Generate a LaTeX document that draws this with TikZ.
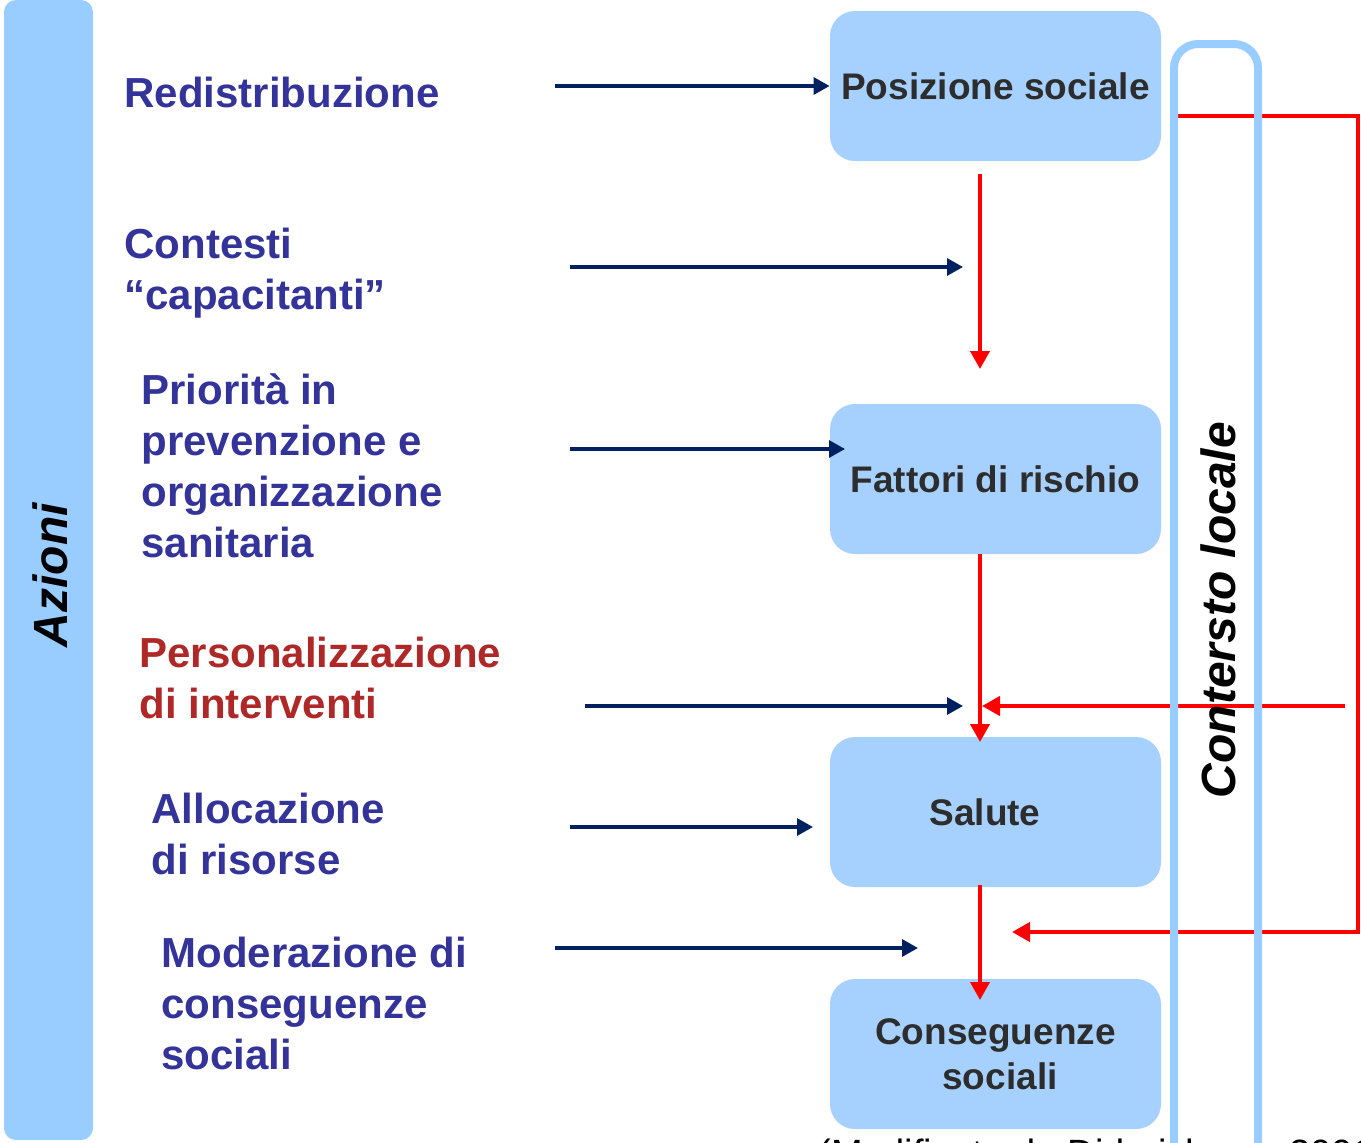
\documentclass[tikz,border=0pt]{standalone}
\usepackage{fontspec}
\setmainfont{Liberation Sans}
\usetikzlibrary{arrows.meta}
\definecolor{textblue}{RGB}{51,51,153}
\definecolor{textred}{RGB}{175,40,40}
\definecolor{navy}{RGB}{0,32,96}
\definecolor{boxfill}{RGB}{166,209,255}
\definecolor{barfill}{RGB}{153,204,255}
\definecolor{boxtext}{RGB}{45,45,45}
\tikzset{
  azlabel/.style={anchor=west,inner sep=0pt,align=left,text=textblue,font=\fontsize{21}{25.5}\selectfont\bfseries},
  stagebox/.style={fill=boxfill,rounded corners=12.5pt,minimum width=165.5pt,minimum height=75pt,inner sep=0pt,align=center,text=boxtext,font=\fontsize{18.5}{22.5}\selectfont\bfseries},
  navyarr/.style={draw=navy,line width=1.6pt,-{Triangle[length=8pt,width=8.5pt]}},
  redarr/.style={draw=red,line width=2pt,-{Triangle[length=9pt,width=9.5pt]}},
}
\begin{document}
\begin{tikzpicture}[x=0.5pt,y=-0.5pt]
\useasboundingbox (0,0) rectangle (1361,1142);
% left bar
\fill[barfill,rounded corners=6pt] (4,0) rectangle (93,1140);
\node[rotate=90,inner sep=0pt,font=\fontsize{24}{28}\selectfont\bfseries\itshape] (azioni) at (50,575) {Azioni};
% action labels
\node[azlabel] (l1) at (124,92) {Redistribuzione};
\node[azlabel] (l2) at (124,273) {Contesti\\“capacitanti”};
\node[azlabel] (l3) at (141,466) {Priorità in\\prevenzione e\\organizzazione\\sanitaria};
\node[azlabel,text=textred] (l4) at (139,678) {Personalizzazione\\di interventi};
\node[azlabel] (l5) at (151,834) {Allocazione\\di risorse};
\node[azlabel] (l6) at (161,1003) {Moderazione di\\conseguenze\\sociali};
% boxes
\node[stagebox] (pos) at (995.5,86) {Posizione sociale};
\node[stagebox] (fat) at (995.5,479) {Fattori di rischio};
\node[stagebox] (sal) at (995.5,812) {\hspace*{-10.5pt}Salute};
\node[stagebox] (con) at (995.5,1054) {Conseguenze\\\hspace*{4.5pt}sociali};
% coordinates
\coordinate (a1s) at (555,86);
\coordinate (a2s) at (570,267); \coordinate (a2e) at (963,267);
\coordinate (a3s) at (570,449); \coordinate (a3e) at (845,449);
\coordinate (a4s) at (585,706); \coordinate (a4e) at (963,706);
\coordinate (a5s) at (570,827); \coordinate (a5e) at (813,827);
\coordinate (a6s) at (555,948); \coordinate (a6e) at (918,948);
\coordinate (r1s) at (980,174); \coordinate (r1e) at (980,369);
\coordinate (r2s) at (980,554); \coordinate (r2e) at (980,742);
\coordinate (r3s) at (980,885); \coordinate (r3e) at (980,1000);
\coordinate (f1) at (1178,116); \coordinate (f2) at (1358,116);
\coordinate (f3) at (1358,932); \coordinate (f4) at (1012,932);
\coordinate (g1) at (1345,706); \coordinate (g2) at (982,706);
% navy arrows
\draw[navyarr] (a1s) -- (pos.west);
\draw[navyarr] (a2s) -- (a2e);
\draw[navyarr] (a3s) -- (a3e);
\draw[navyarr] (a4s) -- (a4e);
\draw[navyarr] (a5s) -- (a5e);
\draw[navyarr] (a6s) -- (a6e);
% red arrows
\draw[redarr] (r1s) -- (r1e);
\draw[redarr] (r2s) -- (r2e);
\draw[redarr] (r3s) -- (r3e);
\draw[redarr] (f1) -- (f2) -- (f3) -- (f4);
\draw[redarr] (g1) -- (g2);
% context frame
\draw[barfill,line width=4pt,rounded corners=12pt] (1174,1170) -- (1174,44) -- (1258,44) -- (1258,1170);
\node[rotate=90,inner sep=0pt,font=\fontsize{24}{28}\selectfont\bfseries\itshape] (ctx) at (1218,610) {Contersto locale};
% source
\node[anchor=base west,inner sep=0pt,font=\fontsize{19}{22}\selectfont] (src) at (818,1166) {(Modificato da Diderichsen, 2001)};
\end{tikzpicture}
\end{document}
